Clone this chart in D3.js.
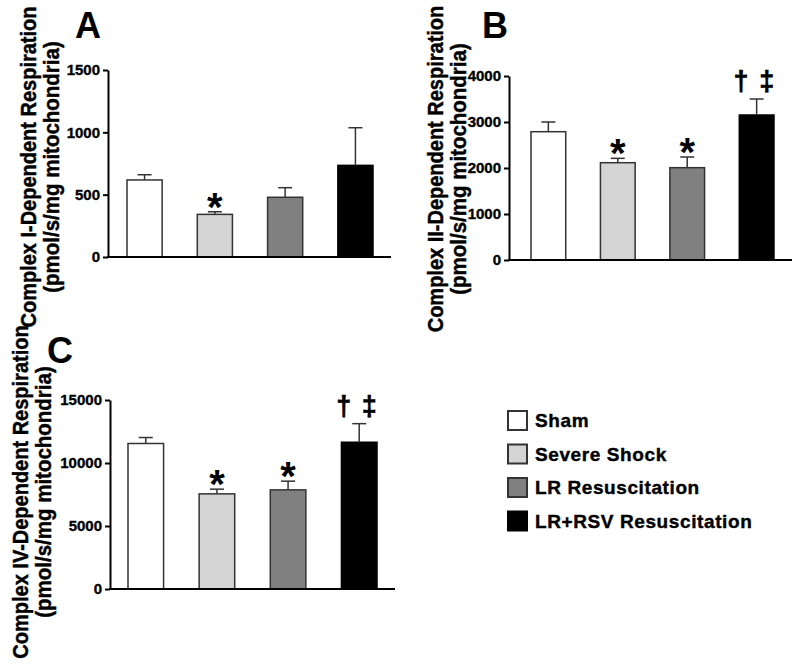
<!DOCTYPE html>
<html><head><meta charset="utf-8">
<script src="https://cdn.jsdelivr.net/npm/d3@7"></script>
<style>
html,body{margin:0;padding:0;background:#fff;}
text{font-family:"Liberation Sans",Arial,sans-serif;font-weight:700;}
</style></head>
<body><svg id="chart" width="800" height="669"></svg>
<script>
const groups = ["Sham","Severe Shock","LR Resuscitation","LR+RSV Resuscitation"];
const colors = ["#ffffff","#d4d4d4","#808080","#000000"];

const meanA = [618, 342, 479, 735];
const semA  = [42, 21, 77, 302];
const markA = ["", "*", "", ""];
const ticksA = [0, 500, 1000, 1500];

const meanB = [2789, 2115, 2007, 3152];
const semB  = [211, 95, 232, 348];
const markB = ["", "*", "*", "\u2020 \u2021"];
const ticksB = [0, 1000, 2000, 3000, 4000];

const meanC = [11548, 7551, 7868, 11648];
const semC  = [474, 373, 690, 1474];
const markC = ["", "*", "*", "\u2020 \u2021"];
const ticksC = [0, 5000, 10000, 15000];

const svg = d3.select("#chart");

function heavy(sel, w){
  return sel.style("font-weight","700").attr("stroke","#000").attr("stroke-width", w).attr("fill","#000");
}

function panel(o){
  const g = svg.append("g");
  const y = d3.scaleLinear().domain([0, o.ticks[o.ticks.length-1]]).range([o.y0, o.yTop]);
  const x = d3.scaleBand().domain(groups).range(o.barRange).paddingInner(0.5).paddingOuter(0);
  g.selectAll("rect.bar").data(groups).enter().append("rect")
    .attr("x", d => x(d)).attr("width", x.bandwidth())
    .attr("y", (d,i) => y(o.mean[i])).attr("height", (d,i) => o.y0 - y(o.mean[i]))
    .attr("fill", (d,i) => colors[i])
    .attr("stroke", (d,i) => i===3 ? "#000" : "#333").attr("stroke-width", 1.5);
  groups.forEach((d,i) => {
    const cx = x(d) + x.bandwidth()/2;
    const top = y(o.mean[i] + o.sem[i]);
    g.append("line").attr("x1", cx).attr("x2", cx).attr("y1", y(o.mean[i])).attr("y2", top)
      .attr("stroke", "#333").attr("stroke-width", 1.5);
    g.append("line").attr("x1", cx-7).attr("x2", cx+7).attr("y1", top).attr("y2", top)
      .attr("stroke", "#333").attr("stroke-width", 1.5);
    const m = o.mark[i];
    if (m === "*") {
      g.append("text").attr("x", cx).attr("y", top - 14 + 23).attr("text-anchor","middle")
        .attr("font-size", 40).attr("fill","#000").text(m);
    } else if (m) {
      heavy(g.append("text").attr("x", cx - 2).attr("y", top - 18 + 9).attr("text-anchor","middle")
        .attr("font-size", 27).attr("letter-spacing", 1.5), 0.6).text(m);
    }
  });
  const ax = g.append("g").attr("transform", `translate(${o.axisX},0)`)
    .call(d3.axisLeft(y).tickValues(o.ticks).tickSize(5).tickSizeOuter(0).tickPadding(3).tickFormat(d3.format("d")));
  ax.select(".domain").attr("stroke","#000").attr("stroke-width",2);
  ax.selectAll(".tick line").attr("stroke","#000").attr("stroke-width",2);
  heavy(ax.selectAll(".tick text").attr("font-size",15).attr("font-family","Liberation Sans, Arial, sans-serif"), 0.35);
  g.append("line").attr("x1", o.axisX-1).attr("x2", o.baseEnd).attr("y1", o.y0).attr("y2", o.y0)
    .attr("stroke","#000").attr("stroke-width",2);
  heavy(g.append("text").attr("transform", `translate(${o.labX1},${o.labY}) rotate(-90) scale(1,1.1)`)
    .attr("text-anchor","middle").attr("font-size",20), 0.4).text(o.title1);
  heavy(g.append("text").attr("transform", `translate(${o.labX2},${o.labY}) rotate(-90) scale(1,1.1)`)
    .attr("text-anchor","middle").attr("font-size",20.5), 0.4).text("(pmol/s/mg mitochondria)");
  g.append("text").attr("x", o.letterX).attr("y", o.letterY).attr("font-size",36).attr("fill","#000").text(o.letter);
}

panel({mean:meanA, sem:semA, mark:markA, ticks:ticksA, y0:257, yTop:70, axisX:108, barRange:[127,373], baseEnd:391,
  labX1:36, labX2:59, labY:167, title1:"Complex I-Dependent Respiration", letter:"A", letterX:75, letterY:38});
panel({mean:meanB, sem:semB, mark:markB, ticks:ticksB, y0:260, yTop:76, axisX:509, barRange:[531,774], baseEnd:792,
  labX1:443, labX2:466, labY:169, title1:"Complex II-Dependent Respiration", letter:"B", letterX:482, letterY:38});
panel({mean:meanC, sem:semC, mark:markC, ticks:ticksC, y0:589, yTop:400, axisX:110, barRange:[128,377], baseEnd:395,
  labX1:28, labX2:51, labY:492, title1:"Complex IV-Dependent Respiration", letter:"C", letterX:47, letterY:363});

const leg = svg.append("g");
groups.forEach((d,i) => {
  const yy = 411 + i*33.5;
  leg.append("rect").attr("x", 508).attr("y", yy).attr("width", 19).attr("height", 19)
    .attr("fill", colors[i]).attr("stroke", i===3?"#000":"#333").attr("stroke-width", 2);
  heavy(leg.append("text").attr("x", 535).attr("y", yy + 16).attr("font-size", 19)
    .attr("letter-spacing", 0.6), 0.4).text(d);
});
</script></body></html>
